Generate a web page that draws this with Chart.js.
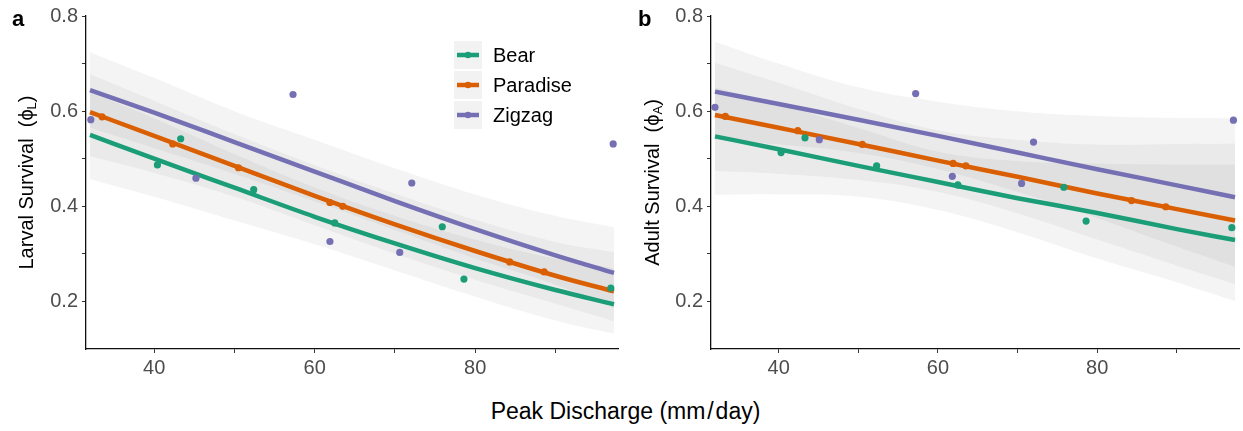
<!DOCTYPE html>
<html>
<head>
<meta charset="utf-8">
<script src="https://cdn.jsdelivr.net/npm/chart.js@4.4.1/dist/chart.umd.min.js"></script>
<style>
body{margin:0;background:#fff;width:1243px;height:431px;overflow:hidden;position:relative;font-family:"Liberation Sans",Arial,sans-serif}
.panel{position:absolute;top:0;height:380px}
#wa{left:0;width:622px}
#wb{left:622px;width:621px}
.tag{position:absolute;top:6px;font-weight:bold;font-size:22px;color:#000}
#xtitle{position:absolute;left:4px;width:1243px;top:398px;text-align:center;font-size:23px;color:#000}
</style>
</head>
<body>
<div class="panel" id="wa"><canvas id="larval"></canvas></div>
<div class="panel" id="wb"><canvas id="adult"></canvas></div>
<div class="tag" style="left:12px">a</div>
<div class="tag" style="left:638px">b</div>
<div id="xtitle">Peak Discharge (mm&#8202;/&#8202;day)</div>
<script>
const series = ["Bear", "Paradise", "Zigzag"];
const colors = ["#1b9e77", "#d95f02", "#7570b3"];

// x positions where the fitted curves are read
const xLine = [32, 40, 50, 60, 70, 80, 90, 97.3];

// panel a - larval survival
const larvalBearFit = [0.550, 0.500, 0.439, 0.378, 0.322, 0.270, 0.224, 0.194];
const larvalBearHi  = [0.640, 0.585, 0.510, 0.440, 0.380, 0.330, 0.290, 0.270];
const larvalBearLo  = [0.457, 0.420, 0.370, 0.320, 0.265, 0.210, 0.160, 0.132];
const larvalParaFit = [0.598, 0.548, 0.485, 0.422, 0.362, 0.306, 0.254, 0.221];
const larvalParaHi  = [0.678, 0.622, 0.552, 0.487, 0.427, 0.372, 0.325, 0.304];
const larvalParaLo  = [0.505, 0.470, 0.420, 0.360, 0.300, 0.245, 0.195, 0.158];
const larvalZigFit  = [0.644, 0.597, 0.535, 0.473, 0.411, 0.352, 0.297, 0.260];
const larvalZigHi   = [0.724, 0.670, 0.600, 0.540, 0.480, 0.425, 0.380, 0.356];
const larvalZigLo   = [0.565, 0.522, 0.468, 0.410, 0.350, 0.290, 0.235, 0.185];

const larvalBearX = [40.4, 43.3, 52.4, 62.5, 75.9, 78.6, 96.9];
const larvalBearY = [0.487, 0.542, 0.435, 0.365, 0.357, 0.247, 0.228];
const larvalParaX = [33.5, 42.3, 50.5, 61.9, 63.5, 84.3, 88.6];
const larvalParaY = [0.588, 0.531, 0.481, 0.408, 0.400, 0.283, 0.262];
const larvalZigX  = [32.1, 45.2, 57.3, 61.9, 70.6, 72.1, 97.2];
const larvalZigY  = [0.582, 0.459, 0.635, 0.326, 0.303, 0.449, 0.531];

// panel b - adult survival
const adultBearFit = [0.547, 0.520, 0.485, 0.451, 0.417, 0.386, 0.352, 0.329];
const adultBearHi  = [0.650, 0.615, 0.565, 0.515, 0.495, 0.490, 0.488, 0.488];
const adultBearLo  = [0.424, 0.425, 0.420, 0.392, 0.345, 0.290, 0.240, 0.201];
const adultParaFit = [0.592, 0.565, 0.531, 0.496, 0.462, 0.427, 0.394, 0.370];
const adultParaHi  = [0.702, 0.660, 0.605, 0.560, 0.540, 0.530, 0.531, 0.532];
const adultParaLo  = [0.474, 0.468, 0.455, 0.430, 0.385, 0.330, 0.275, 0.236];
const adultZigFit  = [0.641, 0.615, 0.582, 0.548, 0.513, 0.478, 0.444, 0.419];
const adultZigHi   = [0.746, 0.700, 0.650, 0.620, 0.600, 0.590, 0.586, 0.585];
const adultZigLo   = [0.540, 0.530, 0.512, 0.478, 0.430, 0.375, 0.315, 0.273];

const adultBearX = [40.3, 43.3, 52.3, 62.5, 75.8, 78.6, 96.9];
const adultBearY = [0.513, 0.544, 0.485, 0.445, 0.440, 0.369, 0.355];
const adultParaX = [33.3, 42.4, 50.5, 61.9, 63.5, 84.3, 88.6];
const adultParaY = [0.589, 0.559, 0.530, 0.490, 0.485, 0.412, 0.399];
const adultZigX  = [32.0, 45.1, 57.2, 61.8, 70.5, 72.0, 97.1];
const adultZigY  = [0.608, 0.540, 0.637, 0.463, 0.448, 0.535, 0.581];

const xTicks = [40, 50, 60, 70, 80, 90];
const xLabels = [40, 60, 80];
const yTicks = [0.2, 0.3, 0.4, 0.5, 0.6, 0.7, 0.8];
const yLabels = [0.2, 0.4, 0.6, 0.8];

const bandFill = "rgba(0,0,0,0.045)";
const tickFont = { family: "'Liberation Sans', Arial, sans-serif", size: 20 };

function pts(xs, ys) {
    return xs.map((x, k) => ({ x: x, y: ys[k] }));
}

function buildDatasets(fits, his, los, pxs, pys) {
    let ds = [];
    series.forEach((name, i) => {
        ds.push({ label: name + " hi", data: pts(xLine, his[i]), borderWidth: 0, pointRadius: 0,
            fill: "+1", backgroundColor: bandFill, tension: 0.4, order: 3 });
        ds.push({ label: name + " lo", data: pts(xLine, los[i]), borderWidth: 0, pointRadius: 0,
            fill: false, tension: 0.4, order: 3 });
    });
    series.forEach((name, i) => {
        ds.push({ label: name, data: pts(xLine, fits[i]), borderColor: colors[i], borderWidth: 4.5,
            pointRadius: 0, fill: false, cubicInterpolationMode: "monotone", order: 2 });
    });
    series.forEach((name, i) => {
        ds.push({ label: name + " obs", data: pts(pxs[i], pys[i]), showLine: false, pointRadius: 3.6,
            pointBackgroundColor: colors[i], pointBorderWidth: 0, order: 1 });
    });
    return ds;
}

function yTitlePlugin(main, sub, x) {
    return {
        id: "ytitle",
        afterDraw(chart) {
            const ctx = chart.ctx;
            const cy = (chart.chartArea.top + chart.chartArea.bottom) / 2;
            ctx.save();
            ctx.translate(x, cy);
            ctx.rotate(-Math.PI / 2);
            ctx.fillStyle = "#000";
            ctx.textBaseline = "middle";
            ctx.font = "20px 'Liberation Sans', Arial, sans-serif";
            const w1 = ctx.measureText(main).width;
            const w3 = ctx.measureText(")").width;
            ctx.font = "13px 'Liberation Sans', Arial, sans-serif";
            const w2 = ctx.measureText(sub).width;
            let sx = -(w1 + w2 + w3) / 2;
            ctx.font = "20px 'Liberation Sans', Arial, sans-serif";
            ctx.fillText(main, sx, 0);
            ctx.font = "13px 'Liberation Sans', Arial, sans-serif";
            ctx.fillText(sub, sx + w1, 5);
            ctx.font = "20px 'Liberation Sans', Arial, sans-serif";
            ctx.fillText(")", sx + w1 + w2, 0);
            ctx.restore();
        }
    };
}

const legendPlugin = {
    id: "keybox",
    afterDraw(chart) {
        const ctx = chart.ctx;
        series.forEach((name, i) => {
            const top = 41 + i * 30;
            ctx.fillStyle = "#f2f2f2";
            ctx.fillRect(454, top, 28, 28);
            ctx.strokeStyle = colors[i];
            ctx.lineWidth = 4.5;
            ctx.beginPath();
            ctx.moveTo(457, top + 14);
            ctx.lineTo(479, top + 14);
            ctx.stroke();
            ctx.fillStyle = colors[i];
            ctx.beginPath();
            ctx.arc(468, top + 14, 3.2, 0, Math.PI * 2);
            ctx.fill();
            ctx.fillStyle = "#000";
            ctx.font = "20px 'Liberation Sans', Arial, sans-serif";
            ctx.textBaseline = "middle";
            ctx.fillText(name, 493, top + 15);
        });
    }
};

function makePanel(id, yWidth, datasets, plugins) {
    new Chart(document.getElementById(id), {
        type: "line",
        data: { datasets: datasets },
        options: {
            responsive: true,
            maintainAspectRatio: false,
            animation: false,
            layout: { padding: { top: 12, right: 1, left: 0, bottom: 0 } },
            plugins: { legend: { display: false }, tooltip: { enabled: false } },
            scales: {
                x: {
                    type: "linear", min: 31.5, max: 97.8,
                    afterBuildTicks: axis => { axis.ticks = xTicks.map(v => ({ value: v })); },
                    afterFit: scale => { scale.height = 31; },
                    border: { display: true, color: "#111", width: 1.3 },
                    grid: { display: true, drawOnChartArea: false, drawTicks: true, tickLength: 4, color: "#333" },
                    ticks: { color: "#4d4d4d", font: tickFont, padding: 3, maxRotation: 0,
                        callback: v => xLabels.includes(v) ? String(v) : "" }
                },
                y: {
                    type: "linear", min: 0.1, max: 0.8,
                    afterBuildTicks: axis => { axis.ticks = yTicks.map(v => ({ value: v })); },
                    afterFit: scale => { scale.width = yWidth; },
                    border: { display: true, color: "#111", width: 1.3 },
                    grid: { display: true, drawOnChartArea: false, drawTicks: true, tickLength: 4, color: "#333" },
                    ticks: { color: "#4d4d4d", font: tickFont, padding: 4,
                        callback: v => yLabels.some(l => Math.abs(l - v) < 1e-6) ? v.toFixed(1) : "" }
                }
            }
        },
        plugins: plugins
    });
}

makePanel("larval", 86,
    buildDatasets([larvalBearFit, larvalParaFit, larvalZigFit],
        [larvalBearHi, larvalParaHi, larvalZigHi],
        [larvalBearLo, larvalParaLo, larvalZigLo],
        [larvalBearX, larvalParaX, larvalZigX],
        [larvalBearY, larvalParaY, larvalZigY]),
    [yTitlePlugin("Larval Survival  (\u03D5", "L", 27), legendPlugin]);

makePanel("adult", 89,
    buildDatasets([adultBearFit, adultParaFit, adultZigFit],
        [adultBearHi, adultParaHi, adultZigHi],
        [adultBearLo, adultParaLo, adultZigLo],
        [adultBearX, adultParaX, adultZigX],
        [adultBearY, adultParaY, adultZigY]),
    [yTitlePlugin("Adult Survival  (\u03D5", "A", 31)]);
</script>
</body>
</html>
